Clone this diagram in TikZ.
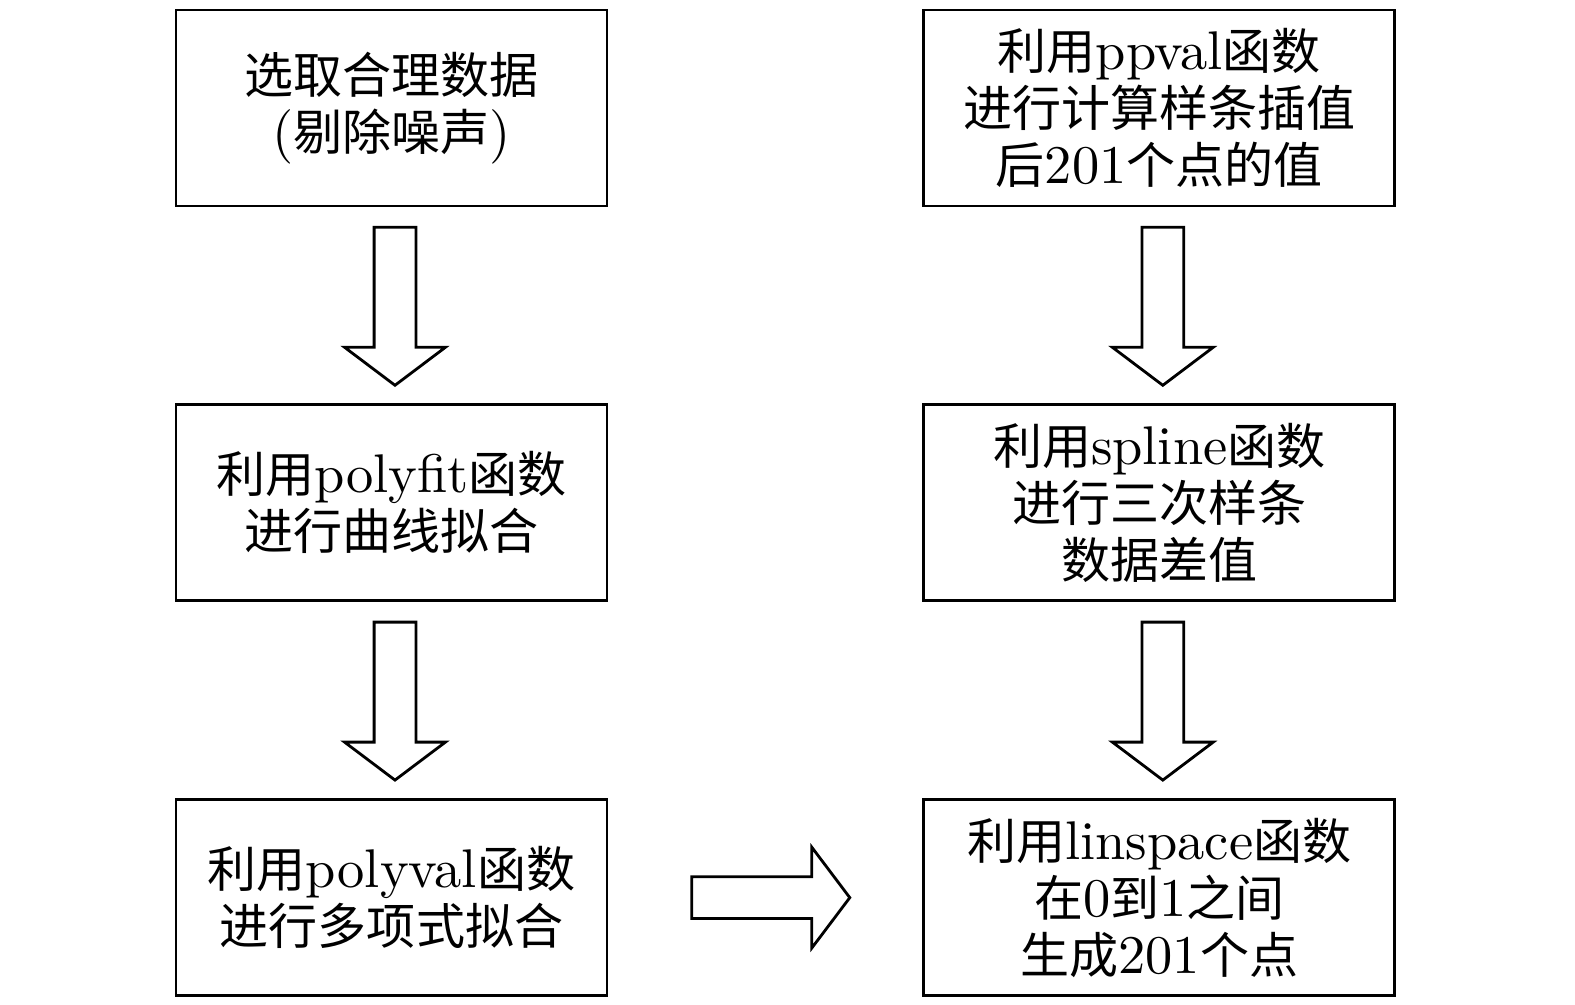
\documentclass[tikz,border=0pt]{standalone}
\usepackage{fontspec}
\setmainfont{lmroman10-regular}[Extension=.otf]
\newfontfamily\zh{Noto Sans CJK SC}[Scale=0.9]
\usetikzlibrary{positioning, shapes.arrows, calc}
\tikzset{%
	proc/.style={draw, rectangle, line width=1.6pt, minimum width=8.62cm, minimum height=3.92cm,%
		inner sep=0mm, align=center, font=\fontsize{31}{32.5}\selectfont},
	wide/.style={minimum width=9.42cm},
	fat/.style={draw, single arrow, line width=1.6pt, inner xsep=0mm, inner ysep=0.39cm,%
		minimum width=0pt, minimum height=3.16cm, single arrow head extend=0.59cm,%
		single arrow tip angle=106}
}
\begin{document}
\begin{tikzpicture}
	\useasboundingbox (-7.83,2.16) rectangle ++(31.5,-20.08);

	\node[proc]                          (data) {{\zh 选取合理数据}\\({\zh 剔除噪声})};
	\node[proc, below=3.92cm of data]    (fit)  {{\zh 利用}polyfit{\zh 函数}\\{\zh 进行曲线拟合}};
	\node[proc, below=3.92cm of fit]     (val)  {{\zh 利用}polyval{\zh 函数}\\{\zh 进行多项式拟合}};
	\node[proc, wide, right=6.28cm of data] (ppv) {{\zh 利用}ppval{\zh 函数}\\{\zh 进行计算样条插值}\\{\zh 后}201{\zh 个点的值}};
	\node[proc, wide, below=3.92cm of ppv] (spl) {{\zh 利用}spline{\zh 函数}\\{\zh 进行三次样条}\\{\zh 数据差值}};
	\node[proc, wide, below=3.92cm of spl] (lin) {{\zh 利用}linspace{\zh 函数}\\{\zh 在}0{\zh 到}1{\zh 之间}\\{\zh 生成}201{\zh 个点}};

	\node[fat, rotate=-90] (a1) at ($(data.south)!0.5!(fit.north)+(0.07,0.14)$) {};
	\node[fat, rotate=-90] (a2) at ($(fit.south)!0.5!(val.north)+(0.07,0.14)$) {};
	\node[fat, rotate=-90] (a3) at ($(ppv.south)!0.5!(spl.north)+(0.07,0.14)$) {};
	\node[fat, rotate=-90] (a4) at ($(spl.south)!0.5!(lin.north)+(0.07,0.14)$) {};
	\node[fat] (a5) at ($(val.east)!0.5!(lin.west)+(-0.05,0)$) {};
\end{tikzpicture}
\end{document}
